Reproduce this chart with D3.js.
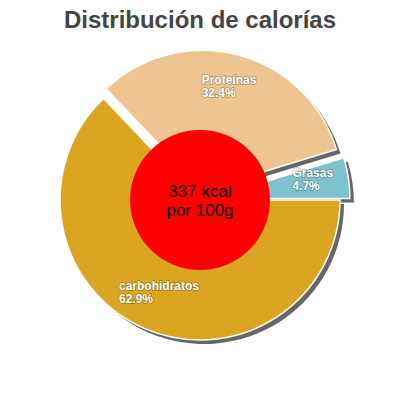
<!DOCTYPE html>
<html><head><meta charset="utf-8">
<script src="https://cdn.jsdelivr.net/npm/d3@7"></script>
<style>body{margin:0;background:#fff}text{font-family:"Liberation Sans",Arial,sans-serif}</style>
</head><body>
<svg id="chart" width="400" height="400"></svg>
<script>
const labels = ['carbohidratos', 'Proteínas', 'Grasas'];
const values = [62.9, 32.4, 4.7];
const colors = ['#DAA520', '#EEC591', '#7CC3CD'];
const explode = [0, 10, 10];
const centerText = ['337 kcal', 'por 100g'];

const svg = d3.select('#chart');
svg.append('text').attr('x', 200).attr('y', 28).attr('text-anchor', 'middle')
  .style('font-size', '24px').style('font-weight', 'bold').attr('fill', '#444')
  .text('Distribución de calorías');

const g = svg.append('g').attr('transform', 'translate(200,200)');
const pie = d3.pie().sort(null).startAngle(Math.PI / 2).endAngle(Math.PI / 2 + 2 * Math.PI);
const arcs = pie(values);
const arc = d3.arc().innerRadius(0).outerRadius(140);
const labelArc = d3.arc().innerRadius(104).outerRadius(104);

function shift(d, i) {
  const a = (d.startAngle + d.endAngle) / 2;
  return [explode[i] * Math.sin(a), -explode[i] * Math.cos(a)];
}

g.selectAll('.shadow').data(arcs).enter().append('path')
  .attr('d', arc).attr('fill', '#666')
  .attr('transform', (d, i) => { const s = shift(d, i); return `translate(${s[0] + 4},${s[1] + 4})`; });

g.selectAll('.slice').data(arcs).enter().append('path')
  .attr('d', arc).attr('fill', (d, i) => colors[i]).attr('stroke', '#fff').attr('stroke-width', 1.5)
  .attr('transform', (d, i) => { const s = shift(d, i); return `translate(${s[0]},${s[1]})`; });

arcs.forEach((d, i) => {
  const s = shift(d, i);
  const c = labelArc.centroid(d);
  const t = g.append('text').attr('fill', '#fff').style('font-size', '12px').style('font-weight', 'bold')
    .style('paint-order', 'stroke').attr('stroke', 'rgba(0,0,0,0.3)').attr('stroke-width', 1.5);
  const t1 = t.append('tspan').text(labels[i]);
  const w = t1.node().getComputedTextLength();
  const x = c[0] + s[0] - w / 2;
  t1.attr('x', x).attr('y', c[1] + s[1] - 6);
  t.append('tspan').attr('x', x).attr('y', c[1] + s[1] + 7).text(values[i] + '%');
});

g.append('circle').attr('r', 70).attr('fill', '#FF0000');
g.selectAll('.ct').data(centerText).enter().append('text')
  .attr('text-anchor', 'middle').attr('y', (d, i) => -3 + i * 19)
  .style('font-size', '17px').attr('fill', '#000').text(d => d);
</script>
</body></html>
